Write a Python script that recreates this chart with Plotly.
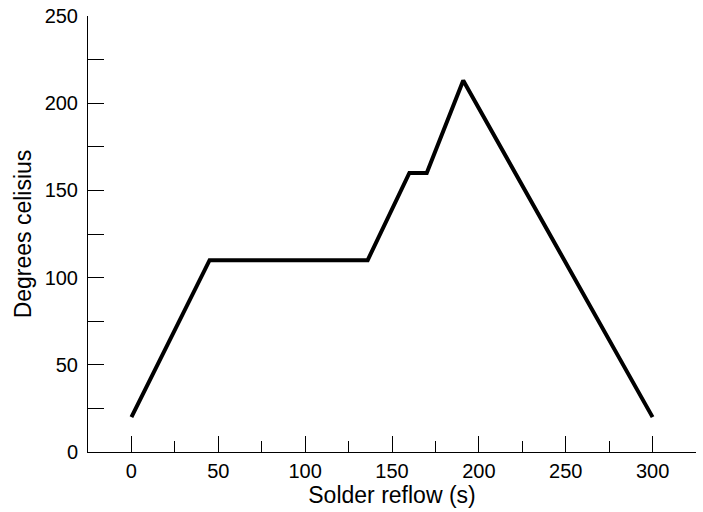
import plotly.graph_objects as go

time_s = [0, 45, 136, 160, 170, 191, 300]
temp_c = [20, 110, 110, 160, 160, 213, 20]

x_tick_vals = [0, 50, 100, 150, 200, 250, 300]
y_tick_vals = [0, 50, 100, 150, 200, 250]

fig = go.Figure()
fig.add_trace(go.Scatter(
    x=time_s, y=temp_c, mode="lines",
    line=dict(color="black", width=4),
    hoverinfo="skip", showlegend=False,
))

font = dict(family="Liberation Sans, Arial, sans-serif", size=19, color="black")
tick_font = dict(family="Liberation Sans, Arial, sans-serif", size=20, color="black")

fig.update_layout(
    width=703, height=512,
    margin=dict(l=88, r=7, t=16, b=60),
    paper_bgcolor="white", plot_bgcolor="white",
    font=font,
    xaxis=dict(
        range=[-25, 325], showgrid=False, zeroline=False, automargin=False,
        showline=True, linecolor="black", linewidth=1,
        tickmode="array", tickvals=x_tick_vals, tickfont=tick_font,
        ticks="inside", ticklen=16, tickcolor="black", tickwidth=1,
        minor=dict(ticks="inside", ticklen=11, dtick=25, tick0=0,
                   tickcolor="black", tickwidth=1, showgrid=False),
        title=dict(text="Solder reflow (s)", standoff=4),
        ticklabelstandoff=1,
    ),
    yaxis=dict(
        range=[0, 250], showgrid=False, zeroline=False, automargin=False,
        showline=True, linecolor="black", linewidth=1,
        tickmode="array", tickvals=y_tick_vals, tickfont=tick_font,
        ticks="inside", ticklen=16, tickcolor="black", tickwidth=1,
        minor=dict(ticks="inside", ticklen=16, dtick=25, tick0=0,
                   tickcolor="black", tickwidth=1, showgrid=False),
        title=dict(text="Degrees celisius", standoff=6),
        ticklabelstandoff=5,
    ),
)

fig.write_html(
    "out.html",
    config={"displayModeBar": False, "staticPlot": True},
    post_script="document.body.style.margin='0';document.body.style.overflow='hidden';",
)
